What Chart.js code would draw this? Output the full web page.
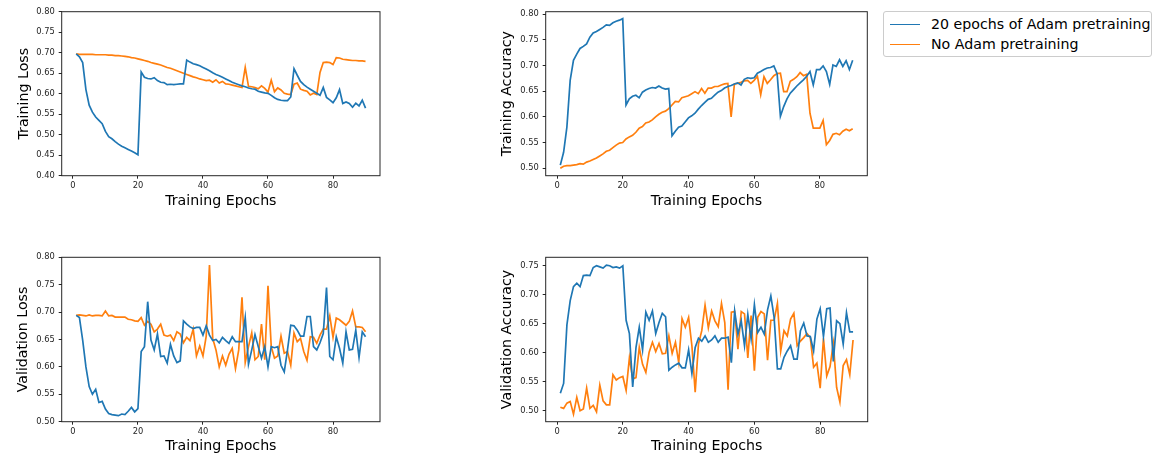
<!DOCTYPE html>
<html>
<head>
<meta charset="utf-8">
<script src="https://cdn.jsdelivr.net/npm/chart.js@4"></script>
<style>
  html, body { margin:0; padding:0; background:#fff; width:1161px; height:455px; overflow:hidden; }
  canvas { position:absolute; }
  #legend { position:absolute; left:883px; top:11px; width:267px; height:44px; border:1px solid #cccccc; border-radius:3px; background:#fff;
            font-family:'DejaVu Sans'; font-size:14.2px; color:#000; }
  .item { position:absolute; left:6px; height:20px; line-height:20px; white-space:nowrap; }
  .swatch { display:inline-block; width:30px; height:0; border-top:1.7px solid; vertical-align:middle; margin-right:11px; position:relative; top:-1px; }
</style>
</head>
<body>
<canvas id="c1" width="390" height="220" style="left:0px;top:0px"></canvas>
<canvas id="c2" width="400" height="220" style="left:480px;top:0px"></canvas>
<canvas id="c3" width="390" height="220" style="left:0px;top:240px"></canvas>
<canvas id="c4" width="400" height="220" style="left:480px;top:240px"></canvas>
<div id="legend"></div>
<script>
// ---------------- DATA ----------------
const seriesNames = ['20 epochs of Adam pretraining', 'No Adam pretraining'];
const epochs = [1,2,3,4,5,6,7,8,9,10,11,12,13,14,15,16,17,18,19,20,21,22,23,24,25,26,27,28,29,30,
  31,32,33,34,35,36,37,38,39,40,41,42,43,44,45,46,47,48,49,50,51,52,53,54,55,56,57,58,59,60,
  61,62,63,64,65,66,67,68,69,70,71,72,73,74,75,76,77,78,79,80,81,82,83,84,85,86,87,88,89,90];
const epochTicks = [0, 20, 40, 60, 80];
const trainLossTicks = [0.40, 0.45, 0.50, 0.55, 0.60, 0.65, 0.70, 0.75, 0.80];
const trainAccTicks = [0.50, 0.55, 0.60, 0.65, 0.70, 0.75, 0.80];
const valLossTicks = [0.50, 0.55, 0.60, 0.65, 0.70, 0.75, 0.80];
const valAccTicks = [0.50, 0.55, 0.60, 0.65, 0.70, 0.75];

const trainLossAdam = [0.697,0.690,0.676,0.610,0.572,0.555,0.543,0.535,0.527,0.508,
  0.495,0.490,0.483,0.477,0.472,0.468,0.464,0.460,0.456,0.451,
  0.653,0.640,0.637,0.636,0.639,0.632,0.628,0.627,0.622,0.623,
  0.622,0.623,0.624,0.624,0.682,0.677,0.673,0.671,0.668,0.664,
  0.660,0.656,0.651,0.647,0.644,0.640,0.636,0.632,0.628,0.625,
  0.622,0.619,0.617,0.614,0.612,0.611,0.606,0.604,0.602,0.601,
  0.596,0.590,0.586,0.584,0.583,0.583,0.592,0.661,0.645,0.630,
  0.622,0.616,0.611,0.606,0.601,0.596,0.615,0.591,0.585,0.578,
  0.590,0.610,0.576,0.580,0.576,0.567,0.577,0.570,0.584,0.565];
const trainLossNoAdam = [0.697,0.696,0.696,0.696,0.696,0.696,0.695,0.695,0.695,0.695,
  0.694,0.694,0.693,0.693,0.692,0.691,0.690,0.688,0.687,0.685,
  0.683,0.681,0.679,0.676,0.674,0.672,0.670,0.667,0.664,0.662,
  0.659,0.656,0.653,0.650,0.647,0.644,0.641,0.639,0.636,0.634,
  0.632,0.633,0.628,0.634,0.626,0.630,0.624,0.623,0.621,0.619,
  0.617,0.615,0.664,0.618,0.617,0.615,0.612,0.619,0.613,0.604,
  0.633,0.605,0.614,0.609,0.601,0.599,0.598,0.623,0.626,0.611,
  0.608,0.606,0.597,0.601,0.598,0.652,0.676,0.677,0.676,0.671,
  0.688,0.687,0.684,0.683,0.682,0.681,0.681,0.680,0.680,0.679];
const trainAccAdam = [0.506,0.531,0.580,0.671,0.710,0.722,0.733,0.737,0.742,0.755,
  0.763,0.766,0.770,0.774,0.779,0.778,0.783,0.786,0.788,0.791,
  0.623,0.635,0.640,0.642,0.637,0.648,0.652,0.655,0.657,0.656,
  0.660,0.656,0.654,0.655,0.563,0.572,0.580,0.582,0.590,0.598,
  0.602,0.607,0.615,0.622,0.628,0.634,0.636,0.642,0.648,0.651,
  0.656,0.659,0.661,0.664,0.666,0.662,0.673,0.676,0.675,0.676,
  0.685,0.688,0.692,0.695,0.696,0.699,0.684,0.601,0.620,0.635,
  0.646,0.653,0.660,0.666,0.672,0.679,0.688,0.662,0.692,0.692,
  0.699,0.688,0.663,0.701,0.698,0.711,0.698,0.709,0.692,0.710];
const trainAccNoAdam = [0.500,0.504,0.505,0.505,0.506,0.507,0.509,0.508,0.512,0.514,
  0.517,0.520,0.524,0.528,0.533,0.535,0.540,0.545,0.549,0.550,
  0.557,0.561,0.564,0.570,0.578,0.581,0.588,0.590,0.594,0.600,
  0.605,0.609,0.611,0.616,0.623,0.630,0.629,0.637,0.639,0.641,
  0.645,0.649,0.645,0.655,0.646,0.656,0.656,0.659,0.659,0.662,
  0.664,0.665,0.600,0.664,0.665,0.667,0.670,0.671,0.665,0.671,
  0.679,0.643,0.678,0.665,0.672,0.680,0.684,0.685,0.649,0.649,
  0.669,0.673,0.678,0.686,0.680,0.683,0.607,0.578,0.578,0.578,
  0.593,0.546,0.554,0.566,0.568,0.565,0.572,0.576,0.573,0.577];
const valLossAdam = [0.694,0.690,0.649,0.600,0.564,0.550,0.559,0.535,0.537,0.523,
  0.515,0.513,0.512,0.511,0.514,0.513,0.519,0.526,0.518,0.524,
  0.628,0.637,0.719,0.649,0.631,0.660,0.619,0.620,0.607,0.641,
  0.620,0.608,0.611,0.684,0.678,0.673,0.670,0.672,0.672,0.658,
  0.675,0.658,0.648,0.650,0.644,0.654,0.648,0.643,0.655,0.646,
  0.646,0.646,0.690,0.605,0.631,0.659,0.637,0.616,0.637,0.600,
  0.637,0.635,0.637,0.603,0.591,0.631,0.676,0.675,0.667,0.656,
  0.656,0.692,0.692,0.637,0.631,0.644,0.661,0.745,0.619,0.613,
  0.655,0.634,0.607,0.664,0.631,0.632,0.667,0.617,0.664,0.655];
const valLossNoAdam = [0.694,0.695,0.694,0.693,0.695,0.693,0.694,0.694,0.693,0.702,
  0.693,0.694,0.691,0.691,0.691,0.691,0.687,0.686,0.684,0.683,
  0.690,0.676,0.683,0.678,0.664,0.669,0.678,0.658,0.656,0.658,
  0.648,0.664,0.660,0.644,0.654,0.648,0.669,0.620,0.638,0.620,
  0.656,0.786,0.652,0.631,0.600,0.620,0.603,0.623,0.634,0.597,
  0.631,0.727,0.608,0.637,0.662,0.613,0.619,0.678,0.613,0.748,
  0.637,0.616,0.620,0.656,0.625,0.628,0.603,0.662,0.646,0.652,
  0.628,0.612,0.655,0.654,0.643,0.658,0.669,0.669,0.693,0.654,
  0.689,0.686,0.681,0.676,0.683,0.702,0.673,0.673,0.672,0.664];
const valAccAdam = [0.530,0.547,0.648,0.690,0.714,0.720,0.714,0.733,0.734,0.733,
  0.747,0.750,0.748,0.746,0.751,0.750,0.747,0.748,0.746,0.750,
  0.656,0.633,0.541,0.609,0.644,0.605,0.670,0.656,0.672,0.633,
  0.652,0.668,0.662,0.570,0.575,0.579,0.582,0.574,0.574,0.605,
  0.564,0.609,0.625,0.620,0.629,0.618,0.622,0.629,0.618,0.625,
  0.625,0.627,0.583,0.672,0.632,0.655,0.612,0.666,0.624,0.683,
  0.635,0.644,0.632,0.674,0.698,0.661,0.572,0.572,0.592,0.603,
  0.612,0.589,0.589,0.638,0.651,0.629,0.628,0.603,0.658,0.676,
  0.628,0.676,0.677,0.585,0.655,0.650,0.615,0.669,0.636,0.636];
const valAccNoAdam = [0.506,0.504,0.513,0.516,0.494,0.523,0.500,0.503,0.539,0.504,
  0.509,0.498,0.544,0.517,0.510,0.510,0.562,0.553,0.557,0.559,
  0.535,0.591,0.555,0.557,0.609,0.580,0.566,0.601,0.618,0.602,
  0.616,0.598,0.599,0.629,0.599,0.618,0.583,0.659,0.644,0.661,
  0.612,0.532,0.615,0.638,0.682,0.643,0.672,0.655,0.645,0.685,
  0.652,0.536,0.670,0.671,0.606,0.671,0.667,0.591,0.664,0.569,
  0.661,0.671,0.667,0.587,0.656,0.656,0.685,0.603,0.638,0.629,
  0.658,0.668,0.612,0.620,0.626,0.633,0.626,0.575,0.582,0.539,
  0.625,0.560,0.576,0.616,0.540,0.515,0.578,0.588,0.562,0.622];

// ---------------- STYLE / LAYOUT ----------------
const COLORS = ['#1f77b4', '#ff7f0e'];
const INK = '#262626';
Chart.defaults.font.family = "'DejaVu Sans'";
Chart.defaults.color = INK;

const framePlugin = {
  id: 'frame',
  afterDatasetsDraw(chart) {
    const a = chart.chartArea, ctx = chart.ctx;
    ctx.save();
    ctx.strokeStyle = INK;
    ctx.lineWidth = 1;
    ctx.strokeRect(a.left, a.top, a.right - a.left, a.bottom - a.top);
    ctx.restore();
  }
};

function makePanel(id, a, b, yTicks, yMin, yMax, yTitle, g) {
  const toPts = arr => arr.map((v, i) => ({ x: epochs[i], y: v }));
  new Chart(document.getElementById(id), {
    type: 'line',
    data: {
      datasets: [
        { label: seriesNames[0], data: toPts(a), borderColor: COLORS[0], backgroundColor: COLORS[0] },
        { label: seriesNames[1], data: toPts(b), borderColor: COLORS[1], backgroundColor: COLORS[1] }
      ]
    },
    options: {
      responsive: false, animation: false, devicePixelRatio: 1,
      layout: { padding: { left: 0, top: g.top, right: g.right, bottom: 0 } },
      elements: { point: { radius: 0 }, line: { borderWidth: 1.7, tension: 0 } },
      plugins: { legend: { display: false }, tooltip: { enabled: false } },
      scales: {
        x: {
          type: 'linear', min: -3.45, max: 94.45,
          afterBuildTicks: s => { s.ticks = epochTicks.map(v => ({ value: v })); },
          afterFit: s => { s.height = g.xh; },
          border: { display: false },
          grid: { drawOnChartArea: false, drawTicks: true, tickLength: 3, color: INK },
          ticks: { padding: 2, font: { size: 8.3 }, color: INK, callback: v => String(v) },
          title: { display: true, text: 'Training Epochs', font: { size: 14.2 }, color: '#000', padding: { top: 0, bottom: g.xtp } }
        },
        y: {
          min: yMin, max: yMax,
          afterBuildTicks: s => { s.ticks = yTicks.map(v => ({ value: v })); },
          afterFit: s => { s.width = g.yw; },
          border: { display: false },
          grid: { drawOnChartArea: false, drawTicks: true, tickLength: 3, color: INK },
          ticks: { padding: 4, font: { size: 8.3 }, color: INK, callback: v => v.toFixed(2) },
          title: { display: true, text: yTitle, font: { size: 14.2 }, color: '#000', padding: { top: g.ytp, bottom: 0 } }
        }
      }
    },
    plugins: [framePlugin]
  });
}

makePanel('c1', trainLossAdam, trainLossNoAdam, trainLossTicks, 0.40, 0.80, 'Training Loss',
  { top: 11.7, right: 10, xh: 44.3, xtp: 10.3, yw: 61.7, ytp: 15.4 });
makePanel('c2', trainAccAdam, trainAccNoAdam, trainAccTicks, 0.4855, 0.8045, 'Training Accuracy',
  { top: 11.7, right: 12.7, xh: 44.3, xtp: 10.3, yw: 65.7, ytp: 18.7 });
makePanel('c3', valLossAdam, valLossNoAdam, valLossTicks, 0.50, 0.80, 'Validation Loss',
  { top: 17.3, right: 10, xh: 38.3, xtp: 4.8, yw: 61.7, ytp: 14.6 });
makePanel('c4', valAccAdam, valAccNoAdam, valAccTicks, 0.481, 0.7646, 'Validation Accuracy',
  { top: 17.3, right: 12.3, xh: 38.3, xtp: 4.8, yw: 65.7, ytp: 18.6 });

// legend (HTML text)
const leg = document.getElementById('legend');
seriesNames.forEach((name, i) => {
  const d = document.createElement('div');
  d.className = 'item';
  d.style.top = (2 + i * 20) + 'px';
  d.innerHTML = '<span class="swatch" style="border-color:' + COLORS[i] + '"></span>' + name;
  leg.appendChild(d);
});
</script>
</body>
</html>
